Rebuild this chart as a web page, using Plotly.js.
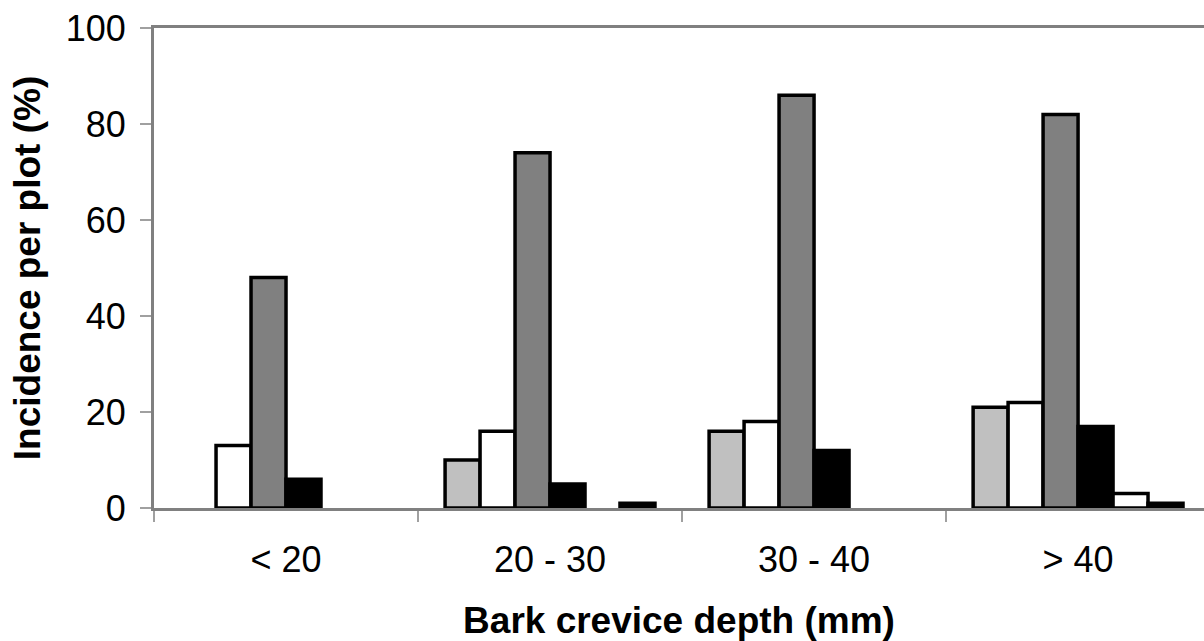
<!DOCTYPE html>
<html>
<head>
<meta charset="utf-8">
<script src="https://cdn.plot.ly/plotly-3.0.1.min.js"></script>
<style>html,body{margin:0;padding:0;background:#fff;}#chart{width:1204px;height:641px;}</style>
</head>
<body>
<div id="chart"></div>
<script>
const categories = ["< 20", "20 - 30", "30 - 40", "> 40"];
const seriesA = [null, 10, 16, 21];   // light grey
const seriesB = [13, 16, 18, 22];     // white
const seriesC = [48, 74, 86, 82];     // dark grey
const seriesD = [6, 5, 12, 17];       // black
const seriesE = [null, null, null, 3]; // white (small)
const seriesF = [null, 1, null, 1];   // black (small)
const yTicks = [0, 20, 40, 60, 80, 100];

const fills = ["#c0c0c0", "#ffffff", "#808080", "#000000", "#ffffff", "#000000"];
const allSeries = [seriesA, seriesB, seriesC, seriesD, seriesE, seriesF];

const traces = allSeries.map((vals, i) => ({
  type: "bar",
  x: categories,
  y: vals,
  name: "Series " + (i + 1),
  marker: { color: fills[i], line: { color: "#000000", width: 3.5 } },
  hoverinfo: "x+y"
}));

const font = "'Liberation Sans', Arial, sans-serif";
const layout = {
  width: 1204,
  height: 641,
  margin: { l: 154, r: 0, t: 28, b: 133 },
  paper_bgcolor: "#ffffff",
  plot_bgcolor: "#ffffff",
  showlegend: false,
  barmode: "group",
  bargap: 0.205,
  bargroupgap: 0,
  font: { family: font, color: "#000000", size: 36 },
  xaxis: {
    type: "category",
    range: [-0.5, 3.477],
    tickson: "boundaries",
    ticks: "outside",
    ticklen: 11,
    tickwidth: 2,
    tickcolor: "#a0a0a0",
    showline: true,
    linecolor: "#808080",
    linewidth: 3,
    mirror: true,
    showgrid: false,
    zeroline: false,
    ticklabelstandoff: 18,
    tickfont: { family: font, size: 36, color: "#000000" },
    title: { text: "Bark crevice depth (mm)", font: { family: font, size: 37, color: "#000000", weight: "bold" }, standoff: 28 }
  },
  yaxis: {
    range: [0, 100],
    tickvals: yTicks,
    ticktext: yTicks.map(String),
    ticks: "outside",
    ticklen: 11,
    tickwidth: 2,
    tickcolor: "#a0a0a0",
    showline: true,
    linecolor: "#808080",
    linewidth: 3,
    showgrid: false,
    zeroline: false,
    ticklabelstandoff: 7,
    tickfont: { family: font, size: 36, color: "#000000" },
    title: { text: "Incidence per plot (%)", font: { family: font, size: 37, color: "#000000", weight: "bold" }, standoff: 14 }
  }
};

Plotly.newPlot("chart", traces, layout, { displayModeBar: false, staticPlot: true });
</script>
</body>
</html>
